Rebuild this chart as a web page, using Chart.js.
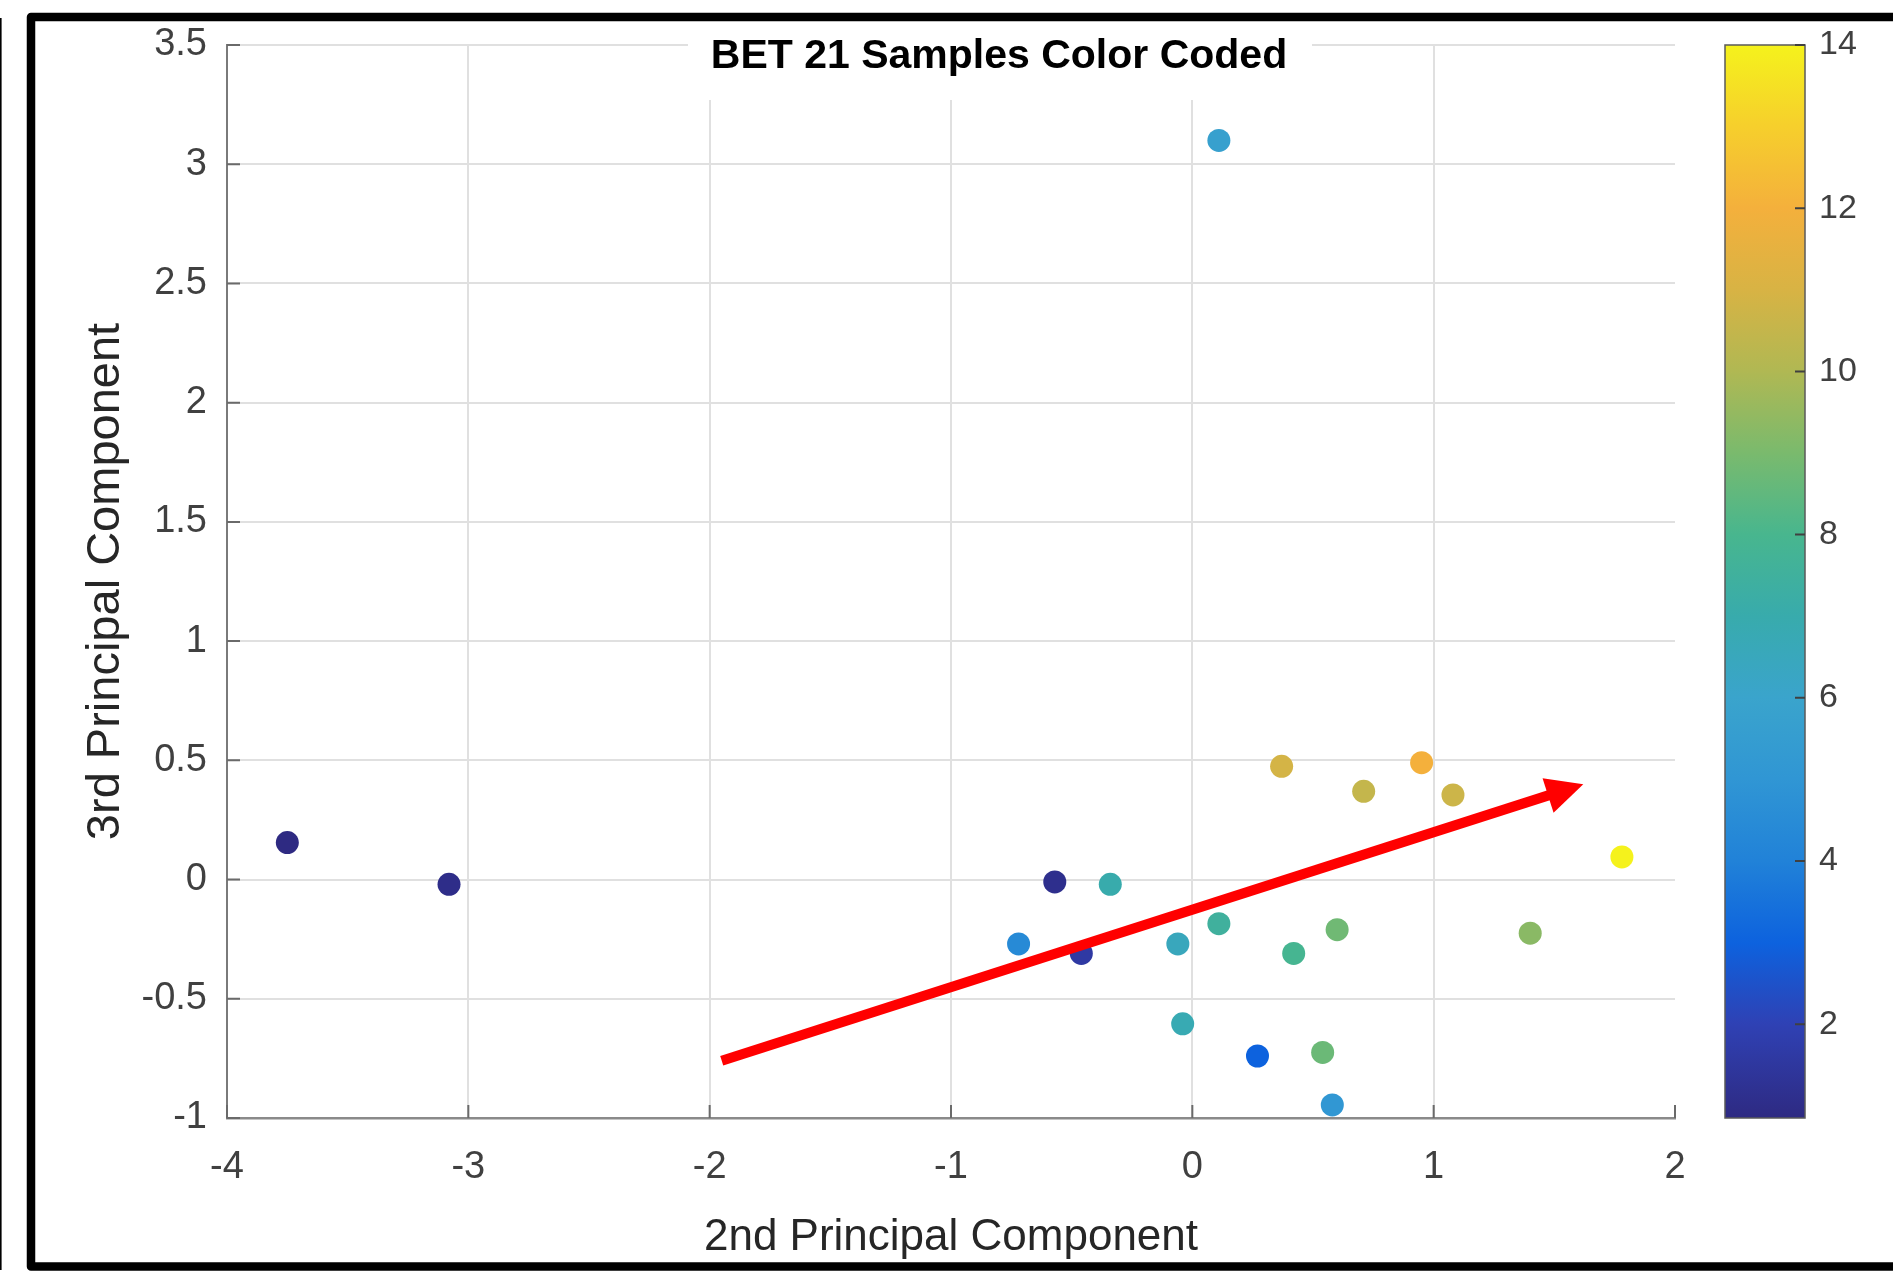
<!DOCTYPE html>
<html>
<head>
<meta charset="utf-8">
<script src="https://cdn.jsdelivr.net/npm/chart.js@4.4.0/dist/chart.umd.min.js"></script>
<style>
html,body{margin:0;padding:0;background:#fff;}
#wrap{position:relative;width:1893px;height:1280px;}
canvas{display:block;}
</style>
</head>
<body>
<div id="wrap"><canvas id="c" width="1893" height="1280"></canvas></div>
<script>
// ---------------- data ----------------
const pc2 = [-3.75, -3.08, 0.11, -0.57, -0.34, -0.72, -0.46, -0.06, 0.11, 0.42, 0.60, -0.04, 0.27, 0.54, 0.58, 0.37, 0.71, 0.95, 1.08, 1.40, 1.78];
const pc3 = [0.155, -0.02, 3.10, -0.01, -0.02, -0.27, -0.31, -0.27, -0.185, -0.31, -0.21, -0.605, -0.74, -0.725, -0.945, 0.475, 0.37, 0.49, 0.355, -0.225, 0.095];
const colorValue = [0.85, 1.0, 5.7, 1.1, 7.0, 4.4, 1.6, 6.5, 7.5, 7.9, 8.8, 6.8, 3.0, 8.7, 5.1, 10.9, 10.5, 12.0, 10.7, 9.3, 14.0];
const xTicks = [-4, -3, -2, -1, 0, 1, 2];
const yTicks = [-1, -0.5, 0, 0.5, 1, 1.5, 2, 2.5, 3, 3.5];
const colorbarTicks = [2, 4, 6, 8, 10, 12, 14];
const arrowFrom = [-1.95, -0.76];
const arrowTo = [1.62, 0.40];
const titleText = 'BET 21 Samples Color Coded';
const xTitle = '2nd Principal Component';
const yTitle = '3rd Principal Component';

// ---------------- colormap (parula-like, as seen in the colorbar) ----------------
const cmapPos = [0.0, 0.087, 0.163, 0.240, 0.316, 0.392, 0.468, 0.544, 0.620, 0.696, 0.772, 0.848, 0.924, 1.0];
const cmapRGB = [[46,42,130],[47,65,180],[13,98,222],[33,130,216],[48,150,212],[58,164,204],[56,171,172],[72,182,142],[122,186,109],[176,184,83],[216,179,68],[244,176,60],[246,207,44],[245,242,28]];
const cmin = Math.min(...colorValue), cmax = Math.max(...colorValue);
function cmapAt(t) {
  t = Math.max(0, Math.min(1, t));
  let i = 0;
  while (i < cmapPos.length - 2 && t > cmapPos[i + 1]) i++;
  const f = (t - cmapPos[i]) / (cmapPos[i + 1] - cmapPos[i]);
  const a = cmapRGB[i], b = cmapRGB[i + 1];
  return 'rgb(' + [0,1,2].map(k => Math.round(a[k] + (b[k] - a[k]) * f)).join(',') + ')';
}
const pointColors = colorValue.map(v => cmapAt((v - cmin) / (cmax - cmin)));

const FONT = "'Liberation Sans', Arial, Helvetica, sans-serif";

const decor = {
  id: 'decor',
  beforeDraw(chart) {
    const ctx = chart.ctx;
    ctx.save();
    ctx.fillStyle = '#fff';
    ctx.fillRect(0, 0, chart.width, chart.height);
    ctx.restore();
  },
  beforeDatasetsDraw(chart) {
    const ctx = chart.ctx;
    const xs = chart.scales.x, ys = chart.scales.y;
    const ca = chart.chartArea;
    ctx.save();
    ctx.strokeStyle = '#6a6a6a';
    ctx.lineWidth = 2;
    ctx.beginPath();
    xTicks.forEach(v => {
      const px = xs.getPixelForValue(v);
      ctx.moveTo(px, ca.bottom); ctx.lineTo(px, ca.bottom - 13);
    });
    yTicks.forEach(v => {
      const py = ys.getPixelForValue(v);
      ctx.moveTo(ca.left, py); ctx.lineTo(ca.left + 13, py);
    });
    ctx.stroke();
    ctx.fillStyle = '#fff';
    ctx.fillRect(688, 24, 624, 76);
    ctx.fillStyle = '#000';
    ctx.font = 'bold 41px ' + FONT;
    ctx.textAlign = 'center';
    ctx.textBaseline = 'middle';
    ctx.fillText(titleText, 999, 57);
    ctx.restore();
  },
  afterDatasetsDraw(chart) {
    const ctx = chart.ctx;
    const xs = chart.scales.x, ys = chart.scales.y;
    const x0 = xs.getPixelForValue(arrowFrom[0]), y0 = ys.getPixelForValue(arrowFrom[1]);
    const x1 = xs.getPixelForValue(arrowTo[0]), y1 = ys.getPixelForValue(arrowTo[1]);
    const dx = x1 - x0, dy = y1 - y0, len = Math.hypot(dx, dy);
    const ux = dx / len, uy = dy / len, nx = -uy, ny = ux;
    const headL = 37, headW = 18;
    const bx = x1 - ux * headL, by = y1 - uy * headL;
    ctx.save();
    ctx.strokeStyle = '#ff0000';
    ctx.fillStyle = '#ff0000';
    ctx.lineWidth = 10;
    ctx.lineCap = 'butt';
    ctx.beginPath();
    ctx.moveTo(x0, y0); ctx.lineTo(bx + ux * 2, by + uy * 2);
    ctx.stroke();
    ctx.beginPath();
    ctx.moveTo(x1, y1);
    ctx.lineTo(bx + nx * headW, by + ny * headW);
    ctx.lineTo(bx - nx * headW, by - ny * headW);
    ctx.closePath();
    ctx.fill();
    ctx.restore();
  },
  afterDraw(chart) {
    const ctx = chart.ctx;
    const cb = chart.scales.cb;
    const top = cb.getPixelForValue(cmax), bot = cb.getPixelForValue(cmin);
    const left = 1725, right = 1805;
    ctx.save();
    const g = ctx.createLinearGradient(0, bot, 0, top);
    cmapPos.forEach((p, i) => g.addColorStop(p, 'rgb(' + cmapRGB[i].join(',') + ')'));
    ctx.fillStyle = g;
    ctx.fillRect(left, top, right - left, bot - top);
    ctx.strokeStyle = '#5a5a5a';
    ctx.lineWidth = 1.5;
    ctx.strokeRect(left, top, right - left, bot - top);
    ctx.strokeStyle = '#404040';
    ctx.lineWidth = 2;
    ctx.beginPath();
    colorbarTicks.forEach(v => {
      const py = cb.getPixelForValue(v);
      ctx.moveTo(right - 10, py); ctx.lineTo(right, py);
    });
    ctx.stroke();
    ctx.fillStyle = '#000';
    ctx.fillRect(0, 18, 1.6, 1252);
    ctx.strokeStyle = '#000';
    ctx.lineWidth = 8.5;
    ctx.lineJoin = 'round';
    ctx.beginPath();
    ctx.moveTo(1900, 17);
    ctx.lineTo(31, 17);
    ctx.lineTo(31, 1266.5);
    ctx.lineTo(1900, 1266.5);
    ctx.stroke();
    ctx.restore();
  }
};

const tickFont = { family: FONT, size: 38 };

new Chart(document.getElementById('c'), {
  type: 'scatter',
  data: {
    datasets: [{
      data: pc2.map((x, i) => ({ x: x, y: pc3[i] })),
      backgroundColor: pointColors,
      borderColor: pointColors,
      borderWidth: 0,
      pointRadius: 11.5,
      pointHoverRadius: 11.5
    }]
  },
  options: {
    responsive: false,
    animation: false,
    devicePixelRatio: 1,
    layout: { padding: { top: 45, left: 0, right: 0, bottom: 0 } },
    plugins: { legend: { display: false }, tooltip: { enabled: false }, title: { display: false } },
    scales: {
      x: {
        type: 'linear', position: 'bottom', min: -4, max: 2,
        afterBuildTicks: s => { s.ticks = xTicks.map(v => ({ value: v })); },
        afterFit: s => { s.height = 162; s.paddingLeft = 0; s.paddingRight = 0; },
        ticks: { font: tickFont, color: '#404040', padding: 27, maxRotation: 0, autoSkip: false, callback: v => String(v) },
        grid: { color: ctx => (ctx.tick && ctx.tick.value === 2) ? 'rgba(0,0,0,0)' : '#e0e0e0', lineWidth: 2, drawTicks: false },
        border: { color: '#8a8a8a', width: 2.5 },
        title: { display: true, text: xTitle, color: '#262626', font: { family: FONT, size: 44 }, padding: { top: 0, bottom: 16 } }
      },
      y: {
        type: 'linear', position: 'left', min: -1, max: 3.5,
        afterBuildTicks: s => { s.ticks = yTicks.map(v => ({ value: v })); },
        afterFit: s => { s.width = 227; s.paddingTop = 0; s.paddingBottom = 0; },
        ticks: { font: tickFont, color: '#404040', padding: 20, autoSkip: false, callback: v => String(v) },
        grid: { color: '#e0e0e0', lineWidth: 2, drawTicks: false },
        border: { color: '#7a7a7a', width: 2 },
        title: { display: true, text: yTitle, color: '#262626', font: { family: FONT, size: 47 }, padding: { top: 78, bottom: 0 } }
      },
      cb: {
        type: 'linear', position: 'right', min: cmin, max: cmax,
        afterBuildTicks: s => { s.ticks = colorbarTicks.map(v => ({ value: v })); },
        afterFit: s => { s.width = 218; s.paddingTop = 0; s.paddingBottom = 0; },
        ticks: { font: { family: FONT, size: 34 }, color: '#404040', padding: 144, autoSkip: false, callback: v => String(v) },
        grid: { display: false, drawTicks: false },
        border: { display: false }
      }
    }
  },
  plugins: [decor]
});
</script>
</body>
</html>
